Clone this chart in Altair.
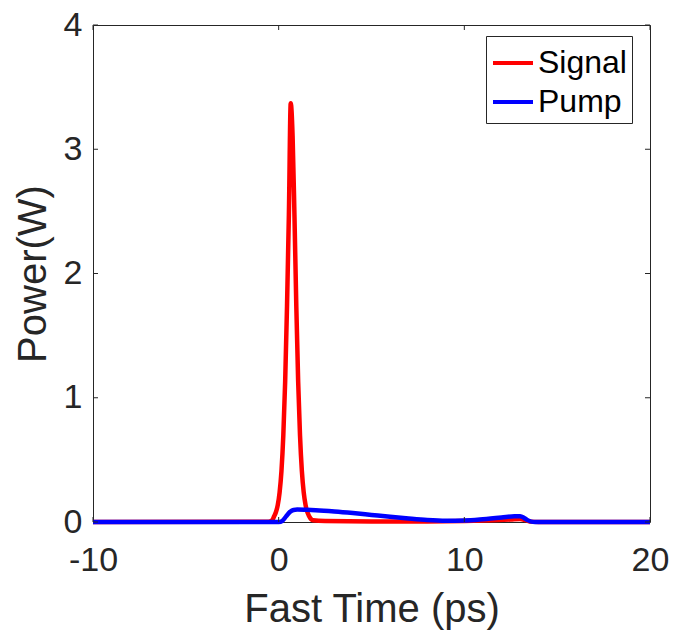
import altair as alt
import pandas as pd

# ---- data ----
signal_t = [-10, -0.55, -0.35, -0.25, -0.15, -0.05, 0.05, 0.15, 0.25, 0.35, 0.45, 0.55,
            0.65, 0.75, 0.85, 0.95, 1.05, 1.15, 1.25, 1.35, 1.45, 1.65, 1.85, 2.5,
            5, 8, 10, 11.5, 12.5, 13.0, 13.3, 13.6, 14, 20]
signal_p = [0, 0.002, 0.014, 0.044, 0.078, 0.136, 0.238, 0.410, 0.696, 1.131, 1.737, 2.472,
            3.37, 3.109, 2.472, 1.737, 1.131, 0.696, 0.410, 0.238, 0.136, 0.044, 0.014, 0.008,
            0.005, 0.005, 0.008, 0.014, 0.02, 0.024, 0.015, 0.003, 0, 0]

pump_t = [-10, 0.0, 0.2, 0.4, 0.6, 0.8, 1.0, 1.5, 2, 3, 4, 5, 6, 7, 8, 9, 10, 11, 12,
          12.7, 13.0, 13.2, 13.4, 13.6, 13.8, 20]
pump_p = [0, 0, 0.01, 0.045, 0.08, 0.097, 0.1, 0.098, 0.095, 0.085, 0.072, 0.057, 0.042,
          0.028, 0.016, 0.01, 0.012, 0.022, 0.036, 0.047, 0.046, 0.035, 0.015, 0.003, 0, 0]

series_names = ["Signal", "Pump"]
series_colors = ["#ff0000", "#0000ff"]

x_ticks = [-10, 0, 10, 20]
y_ticks = [0, 1, 2, 3, 4]

sig_df = pd.DataFrame({"t": signal_t, "p": signal_p, "s": "Signal"})
pump_df = pd.DataFrame({"t": pump_t, "p": pump_p, "s": "Pump"})
xt_df = pd.DataFrame({"t": x_ticks})
yt_df = pd.DataFrame({"p": y_ticks})

W, H = 557, 497
FONT = "Liberation Sans"
INK = "#262626"

xscale = alt.Scale(domain=[-10, 20], nice=False, zero=False)
yscale = alt.Scale(domain=[0, 4], nice=False)

xaxis = alt.Axis(values=x_ticks, title="Fast Time (ps)", grid=False, ticks=False, tickSize=0,
                 domain=False, labelFontSize=34, labelPadding=21, labelColor=INK, labelFont=FONT,
                 labelExpr="(datum.value < 0 ? '-' : '') + abs(datum.value)",
                 titleFont=FONT, titleFontSize=40, titleFontWeight="normal", titleColor=INK,
                 titleBaseline="alphabetic", titleY=99, labelFlush=False, labelOverlap=False)
yaxis = alt.Axis(values=y_ticks, title="Power(W)", grid=False, ticks=False, tickSize=0,
                 domain=False, labelFontSize=34, labelPadding=11, labelColor=INK, labelFont=FONT,
                 titleFont=FONT, titleFontSize=40, titleFontWeight="normal", titleColor=INK,
                 titleBaseline="alphabetic", titleX=-48, titleY=H / 2, titleAngle=270,
                 labelFlush=False, labelOverlap=False)

color = alt.Color("s:N", scale=alt.Scale(domain=series_names, range=series_colors),
                  legend=alt.Legend(title=None, orient="none", legendX=393, legendY=11,
                                    symbolType="stroke", symbolSize=1600, symbolStrokeWidth=4,
                                    labelFont=FONT, labelFontSize=32, labelColor="#000000",
                                    strokeColor=INK, fillColor="#ffffff", padding=5,
                                    rowPadding=1, labelOffset=3, symbolOffset=0))

X = alt.X("t:Q", scale=xscale, axis=xaxis)
Y = alt.Y("p:Q", scale=yscale, axis=yaxis)

sig_line = alt.Chart(sig_df).mark_line(strokeWidth=4.5, interpolate="monotone").encode(
    x=X, y=Y, color=color)
pump_line = alt.Chart(pump_df).mark_line(strokeWidth=4.5, interpolate="monotone").encode(
    x=X, y=Y, color=color)

tk = dict(color=INK, strokeWidth=1)
bottom_ticks = alt.Chart(xt_df).mark_rule(**tk).encode(
    x=X, y=alt.value(H), y2=alt.value(H - 5))
top_ticks = alt.Chart(xt_df).mark_rule(**tk).encode(
    x=X, y=alt.value(0), y2=alt.value(5))
left_ticks = alt.Chart(yt_df).mark_rule(**tk).encode(
    y=Y, x=alt.value(0), x2=alt.value(5))
right_ticks = alt.Chart(yt_df).mark_rule(**tk).encode(
    y=Y, x=alt.value(W), x2=alt.value(W - 5))

chart = alt.layer(
    sig_line, pump_line, bottom_ticks, top_ticks, left_ticks, right_ticks
).properties(
    width=W, height=H,
    autosize=alt.AutoSizeParams(type="none"),
    padding={"left": 93, "top": 25, "right": 23, "bottom": 111},
    background="#ffffff",
).configure_view(stroke=INK, strokeWidth=1)

chart.save("out.html", embed_options={"renderer": "svg", "actions": False})
